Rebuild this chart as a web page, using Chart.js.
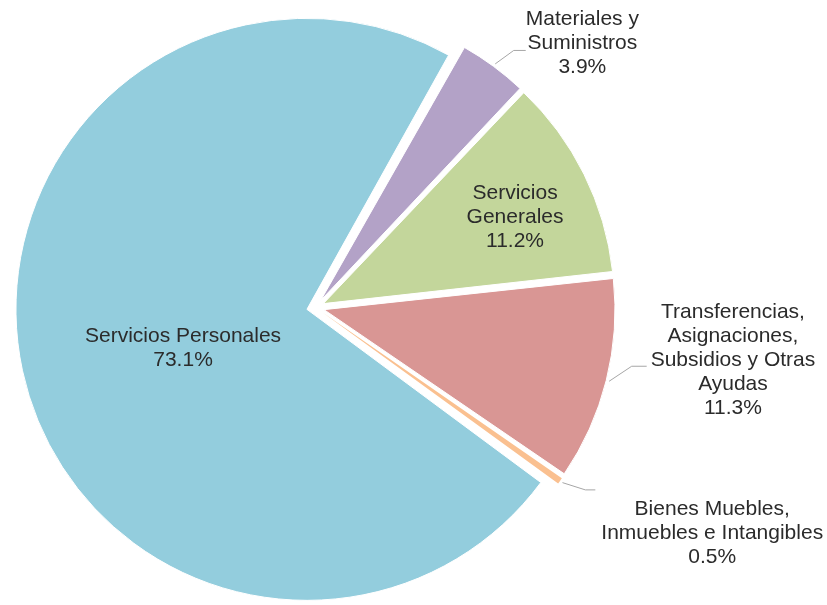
<!DOCTYPE html>
<html><head><meta charset="utf-8">
<script src="https://cdn.jsdelivr.net/npm/chart.js@4.4.1/dist/chart.umd.min.js"></script>
<style>html,body{margin:0;padding:0;background:#fff}#wrap{width:827px;height:605px}</style>
</head><body><div id="wrap"><canvas id="c" width="827" height="605"></canvas></div>
<script>
// ---- data ----
const categories = [
  ["Materiales y", "Suministros"],
  ["Servicios", "Generales"],
  ["Transferencias,", "Asignaciones,", "Subsidios y Otras", "Ayudas"],
  ["Bienes Muebles,", "Inmuebles e Intangibles"],
  ["Servicios Personales"]
];
const shares = [3.9, 11.2, 11.3, 0.5, 73.1];
const percentLabels = ["3.9%", "11.2%", "11.3%", "0.5%", "73.1%"];
const sliceColors = ["#B3A2C7", "#C3D69B", "#D99694", "#FAC090", "#93CDDD"];

// ---- label placement (chart angle in degrees from pie centre, radius factor) ----
const labelPlacement = [
  { ang: -44.7, rf: 1.29, leader: { ex: 0, ey: 7, elbow: 12 } },
  { ang: -24.4, rf: 0.753 },
  { ang: 7.2, rf: 1.446, leader: { ex: -4, ey: 6, elbow: 15 } },
  { ang: 29.6, rf: 1.568, leader: { ex: -6, ey: -43, elbow: 10 } },
  { ang: 163, rf: 0.476 }
];

const PIE_R = 291;
const EXPLODE = 35;
const FONT = '21px "Liberation Sans", Arial, sans-serif';
const LINE_H = 24;

const equalRadiusPlugin = {
  id: 'equalRadius',
  afterDatasetUpdate(chart, args) {
    args.meta.data.forEach(el => {
      const circ = el.endAngle - el.startAngle;
      const fix = 1 - Math.sin(Math.min(Math.PI, circ));
      el.outerRadius = PIE_R - (EXPLODE / 4) * fix;
    });
  }
};

const labelPlugin = {
  id: 'sliceLabels',
  afterDraw(chart) {
    const ctx = chart.ctx;
    const meta = chart.getDatasetMeta(0);
    ctx.save();
    ctx.font = FONT;
    ctx.textAlign = 'center';
    ctx.textBaseline = 'middle';
    meta.data.forEach((el, i) => {
      const p = labelPlacement[i];
      const a = p.ang * Math.PI / 180;
      const lx = el.x + Math.cos(a) * PIE_R * p.rf;
      const ly = el.y + Math.sin(a) * PIE_R * p.rf;
      const lines = categories[i].concat([percentLabels[i]]);
      let w = 0;
      lines.forEach(t => { w = Math.max(w, ctx.measureText(t).width); });
      const h = lines.length * LINE_H;
      if (p.leader) {
        const mid = (el.startAngle + el.endAngle) / 2;
        const off = EXPLODE / 4;
        const sx = el.x + Math.cos(mid) * (off + PIE_R + 3);
        const sy = el.y + Math.sin(mid) * (off + PIE_R + 3);
        const exx = lx - w / 2 + p.leader.ex;
        const eyy = ly + p.leader.ey;
        ctx.strokeStyle = '#A6A6A6';
        ctx.lineWidth = 1;
        ctx.beginPath();
        ctx.moveTo(sx, sy);
        ctx.lineTo(exx - p.leader.elbow, eyy);
        ctx.lineTo(exx, eyy);
        ctx.stroke();
      }
      ctx.fillStyle = '#2b2b2b';
      lines.forEach((t, k) => {
        ctx.fillText(t, lx, ly - h / 2 + LINE_H / 2 + k * LINE_H);
      });
    });
    ctx.restore();
  }
};

new Chart(document.getElementById('c'), {
  type: 'pie',
  data: {
    labels: categories.map(c => c.join(' ')),
    datasets: [{
      data: shares,
      backgroundColor: sliceColors,
      borderColor: '#ffffff',
      borderWidth: [1, 1, 1, 0, 1],
      offset: EXPLODE
    }]
  },
  options: {
    responsive: false,
    animation: false,
    events: [],
    rotation: 29.4,
    radius: PIE_R,
    layout: { padding: { left: 0, right: 196, top: 10, bottom: 0 } },
    plugins: { legend: { display: false }, tooltip: { enabled: false } }
  },
  plugins: [equalRadiusPlugin, labelPlugin]
});
</script>
</body></html>
